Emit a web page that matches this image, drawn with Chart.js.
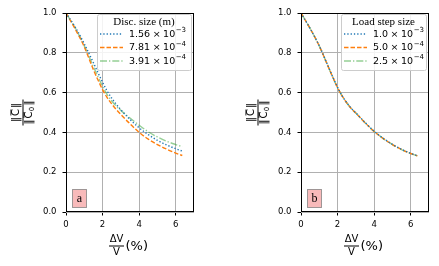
<!DOCTYPE html>
<html>
<head>
<meta charset="utf-8">
<script src="https://cdn.jsdelivr.net/npm/chart.js@4.4.1/dist/chart.umd.min.js"></script>
<style>
  body { margin: 0; background: #fff; width: 439px; height: 266px; overflow: hidden; position: relative; }
  .panel { position: absolute; top: 0; height: 266px; }
</style>
</head>
<body>
<div class="panel" style="left:0;width:220px"><canvas id="chartA" width="220" height="266"></canvas></div>
<div class="panel" style="left:220px;width:219px"><canvas id="chartB" width="219" height="266"></canvas></div>
<script>
// volumetric strain dV/V (%)
const strain = [0, 0.5, 1, 1.5, 1.75, 2, 2.25, 2.5, 2.75, 3, 3.5, 4, 4.5, 5, 5.5, 6, 6.36];

// panel a : discretisation size
const discCoarse = [1.0, 0.93, 0.845, 0.75, 0.7, 0.652, 0.608, 0.572, 0.541, 0.514, 0.465, 0.423, 0.389, 0.36, 0.337, 0.318, 0.306];
const discMedium = [1.0, 0.92, 0.83, 0.715, 0.663, 0.615, 0.575, 0.543, 0.515, 0.49, 0.443, 0.4, 0.366, 0.339, 0.316, 0.296, 0.284];
const discFine   = [1.0, 0.925, 0.835, 0.73, 0.68, 0.632, 0.59, 0.558, 0.532, 0.51, 0.472, 0.436, 0.403, 0.377, 0.356, 0.339, 0.328];
const discMant = ['1.56', '7.81', '3.91'];
const discExp  = ['3', '4', '4'];

// panel b : load step size
const stepLarge  = [1.0, 0.922, 0.835, 0.729, 0.676, 0.626, 0.584, 0.55, 0.521, 0.498, 0.45, 0.406, 0.37, 0.34, 0.315, 0.295, 0.283];
const stepMedium = [1.0, 0.922, 0.834, 0.728, 0.675, 0.625, 0.583, 0.549, 0.52, 0.497, 0.449, 0.405, 0.369, 0.339, 0.314, 0.294, 0.282];
const stepSmall  = [1.0, 0.922, 0.834, 0.728, 0.675, 0.625, 0.583, 0.549, 0.52, 0.497, 0.449, 0.405, 0.369, 0.339, 0.314, 0.294, 0.282];
const stepMant = ['1.0', '5.0', '2.5'];
const stepExp  = ['3', '4', '4'];

const xTicks = [0, 2, 4, 6];
const yTicks = [0, 0.2, 0.4, 0.6, 0.8, 1.0];

const colours = ['#1f77b4', '#ff7f0e', 'rgba(44,160,44,0.5)'];
const dashes = [[1.3, 2], [4.5, 2], [7, 2, 1.3, 2]];

function pts(ys) {
  return strain.map((x, i) => ({ x: x, y: ys[i] }));
}

function makeSets(series) {
  return series.map((ys, i) => ({
    data: pts(ys),
    borderColor: colours[i],
    borderDash: dashes[i],
    borderWidth: 1.4,
    pointRadius: 0,
    fill: false,
    cubicInterpolationMode: 'monotone'
  }));
}

// frame, inner legend, panel letter and axis labels
const extras = {
  id: 'extras',
  afterDatasetsDraw(chart, args, o) {
    const ctx = chart.ctx;
    const a = chart.chartArea;
    ctx.save();

    // spines
    ctx.strokeStyle = '#000';
    ctx.lineWidth = 1;
    ctx.strokeRect(Math.round(a.left) + 0.5, Math.round(a.top) + 0.5,
      Math.round(a.right - a.left) - 1, Math.round(a.bottom - a.top) - 1);

    // legend
    const x0 = Math.round(a.right) - 3 - o.legendWidth;
    const y0 = Math.round(a.top) + 1;
    ctx.beginPath();
    ctx.roundRect(x0 + 0.5, y0 + 0.5, o.legendWidth, 56, 2);
    ctx.fillStyle = 'rgba(255,255,255,0.85)';
    ctx.fill();
    ctx.strokeStyle = '#cccccc';
    ctx.stroke();

    ctx.fillStyle = '#000';
    ctx.textBaseline = 'middle';
    ctx.textAlign = 'center';
    ctx.font = '11px "Liberation Serif"';
    ctx.fillText(o.title, x0 + o.legendWidth / 2, y0 + 8.5);

    chart.data.datasets.forEach((ds, i) => {
      const y = y0 + 20 + i * 13.5;
      ctx.beginPath();
      ctx.setLineDash(ds.borderDash);
      ctx.strokeStyle = ds.borderColor;
      ctx.lineWidth = ds.borderWidth;
      ctx.moveTo(x0 + 3, y);
      ctx.lineTo(x0 + 26, y);
      ctx.stroke();
      ctx.setLineDash([]);

      ctx.fillStyle = '#000';
      ctx.textAlign = 'left';
      ctx.font = '9.5px "DejaVu Sans"';
      let tx = x0 + 32;
      ctx.fillText(o.mant[i], tx, y + 0.5);
      tx += ctx.measureText(o.mant[i]).width + 2.5;
      ctx.fillText('\u00d7', tx, y + 0.5);
      tx += ctx.measureText('\u00d7').width + 2.5;
      ctx.fillText('10', tx, y + 0.5);
      tx += ctx.measureText('10').width + 0.5;
      ctx.font = '7px "DejaVu Sans"';
      ctx.fillText('\u2212' + o.exp[i], tx, y - 3.5);
    });

    // panel letter
    const bx = Math.round(a.left) + 6.5, by = Math.round(a.bottom) - 22.5;
    ctx.fillStyle = 'rgba(244,140,140,0.6)';
    ctx.fillRect(bx, by, 14, 18);
    ctx.strokeStyle = 'rgba(120,120,120,0.7)';
    ctx.lineWidth = 1;
    ctx.strokeRect(bx, by, 14, 18);
    ctx.fillStyle = '#000';
    ctx.textAlign = 'center';
    ctx.font = '12px "Liberation Serif"';
    ctx.fillText(o.letter, bx + 7, by + 9);

    // y label: ||C|| / ||C0||
    const cy = (a.top + a.bottom) / 2;
    ctx.translate(Math.round(a.left) - 43, cy);
    ctx.rotate(-Math.PI / 2);
    drawNorm(ctx, 0, -6.5, '');
    drawNorm(ctx, 0, 6.5, '0');
    ctx.fillRect(-13, -0.5, 26, 1);
    ctx.setTransform(1, 0, 0, 1, 0, 0);

    // x label: dV/V (%)
    const cx = (a.left + a.right) / 2;
    const fy = Math.round(a.bottom) + 34;
    ctx.font = '10px "DejaVu Sans"';
    ctx.textAlign = 'center';
    ctx.fillText('\u0394V', cx - 13.5, fy - 6.5);
    ctx.fillText('V', cx - 13.5, fy + 6);
    ctx.fillRect(cx - 21, fy - 0.5, 15, 1);
    ctx.font = '13px "DejaVu Sans"';
    ctx.textAlign = 'left';
    ctx.fillText('(%)', cx - 4.5, fy + 0.5);

    ctx.restore();
  }
};

function drawNorm(ctx, cx, cy, sub) {
  ctx.font = '10px "DejaVu Sans"';
  const wb = ctx.measureText('\u2016').width;
  const wc = ctx.measureText('C').width;
  ctx.font = '7px "DejaVu Sans"';
  const ws = sub ? ctx.measureText(sub).width + 0.5 : 0;
  const total = wb * 2 + wc + ws + 2;
  let x = cx - total / 2;
  ctx.textAlign = 'left';
  ctx.textBaseline = 'middle';
  ctx.fillStyle = '#000';
  ctx.font = '10px "DejaVu Sans"';
  ctx.fillText('\u2016', x, cy);
  x += wb + 1;
  ctx.fillText('C', x, cy);
  ctx.fillRect(x + 0.5, cy - 6, wc - 1, 0.8);
  x += wc;
  if (sub) {
    ctx.font = '7px "DejaVu Sans"';
    ctx.fillText(sub, x + 0.3, cy + 2.5);
    x += ws;
  }
  ctx.font = '10px "DejaVu Sans"';
  ctx.fillText('\u2016', x + 1, cy);
}

function makeChart(id, series, yWidth, padRight, legendOpts) {
  return new Chart(document.getElementById(id), {
    type: 'line',
    data: { datasets: makeSets(series) },
    options: {
      responsive: false,
      animation: false,
      devicePixelRatio: 1,
      layout: { padding: { left: 0, top: 13, right: padRight, bottom: 0 } },
      plugins: {
        legend: { display: false },
        tooltip: { enabled: false },
        extras: legendOpts
      },
      scales: {
        x: {
          type: 'linear', min: 0, max: 7,
          afterBuildTicks: s => { s.ticks = xTicks.map(v => ({ value: v })); },
          afterFit: s => { s.height = 54; },
          ticks: { color: '#000', font: { family: 'DejaVu Sans', size: 8.5 }, padding: 4, maxRotation: 0 },
          grid: { color: '#b0b0b0', lineWidth: 1, tickColor: '#000', tickLength: 3.5 },
          border: { display: false }
        },
        y: {
          min: 0, max: 1,
          afterBuildTicks: s => { s.ticks = yTicks.map(v => ({ value: v })); },
          afterFit: s => { s.width = yWidth; },
          ticks: { color: '#000', font: { family: 'DejaVu Sans', size: 8.5 }, padding: 6,
                   callback: v => v.toFixed(1) },
          grid: { color: '#b0b0b0', lineWidth: 1, tickColor: '#000', tickLength: 3.5 },
          border: { display: false }
        }
      }
    },
    plugins: [extras]
  });
}

makeChart('chartA', [discCoarse, discMedium, discFine], 66, 26,
  { title: 'Disc. size (m)', mant: discMant, exp: discExp, legendWidth: 94, letter: 'a' });
makeChart('chartB', [stepLarge, stepMedium, stepSmall], 81, 10,
  { title: 'Load step size', mant: stepMant, exp: stepExp, legendWidth: 85, letter: 'b' });
</script>
</body>
</html>
